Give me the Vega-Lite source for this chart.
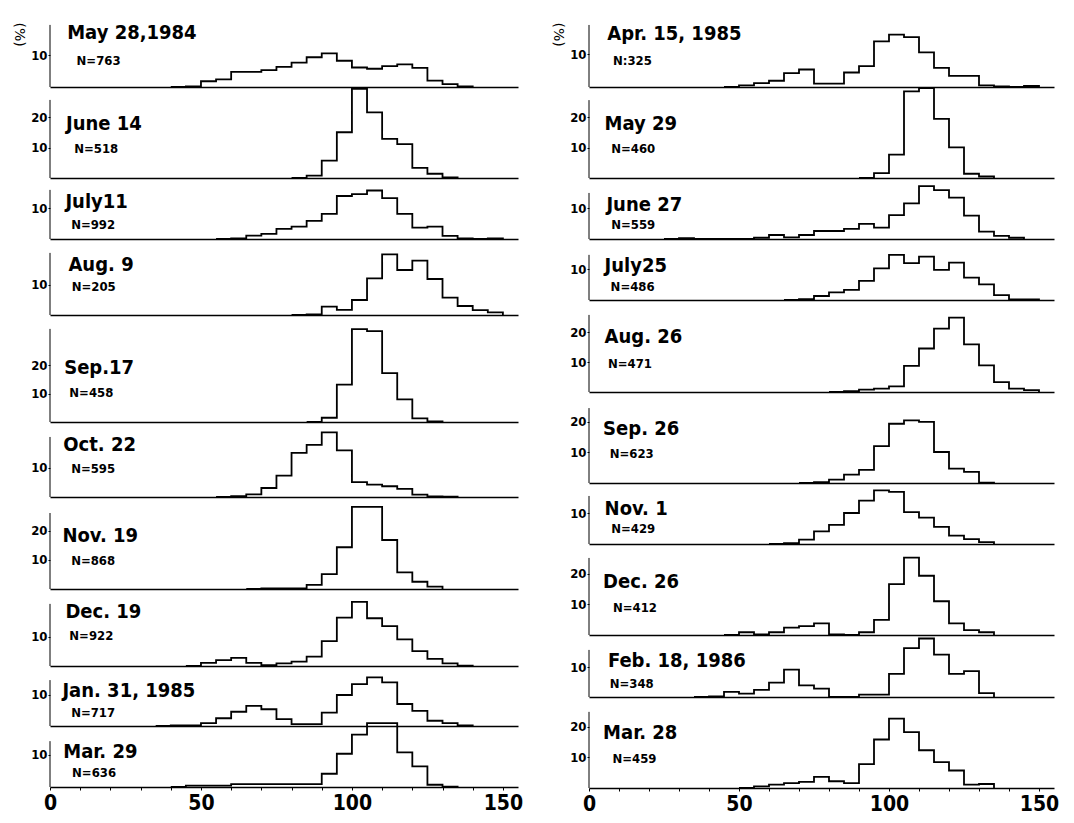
{
"$schema": "https://vega.github.io/schema/vega-lite/v6.json",
"background": "white",
"padding": {"left": 11, "top": 22, "right": 5, "bottom": 5},
"config": {
  "view": {"stroke": null},
  "font": "DejaVu Sans",
  "axis": {"labelOverlap": false},
  "axisX": {"grid": false, "domainColor": "black", "domainWidth": 1.5, "labelColor": "black", "labelOverlap": false, "labelFont": "Liberation Sans Narrow, DejaVu Sans Condensed, sans-serif", "labelFontWeight": "bold"},
  "axisY": {"grid": false, "domain": false, "tickSize": 2, "tickColor": "black", "labelPadding": 1, "labelFontSize": 13, "labelColor": "black", "labelFont": "Liberation Sans Narrow, DejaVu Sans Condensed, sans-serif", "labelFontWeight": "bold"},
  "line": {"color": "black", "strokeWidth": 1.8, "interpolate": "step-after"},
  "rule": {"color": "black", "strokeWidth": 1},
  "text": {"color": "black", "align": "left", "baseline": "alphabetic", "font": "DejaVu Sans Condensed", "fontWeight": "bold"}
},
"datasets": {
  "labels": [
    {"p":"L1","title":"May 28,1984","n":"N=763"},
    {"p":"L2","title":"June 14","n":"N=518"},
    {"p":"L3","title":"July11","n":"N=992"},
    {"p":"L4","title":"Aug. 9","n":"N=205"},
    {"p":"L5","title":"Sep.17","n":"N=458"},
    {"p":"L6","title":"Oct. 22","n":"N=595"},
    {"p":"L7","title":"Nov. 19","n":"N=868"},
    {"p":"L8","title":"Dec. 19","n":"N=922"},
    {"p":"L9","title":"Jan. 31, 1985","n":"N=717"},
    {"p":"L10","title":"Mar. 29","n":"N=636"},
    {"p":"R1","title":"Apr. 15, 1985","n":"N:325"},
    {"p":"R2","title":"May 29","n":"N=460"},
    {"p":"R3","title":"June 27","n":"N=559"},
    {"p":"R4","title":"July25","n":"N=486"},
    {"p":"R5","title":"Aug. 26","n":"N=471"},
    {"p":"R6","title":"Sep. 26","n":"N=623"},
    {"p":"R7","title":"Nov. 1","n":"N=429"},
    {"p":"R8","title":"Dec. 26","n":"N=412"},
    {"p":"R9","title":"Feb. 18, 1986","n":"N=348"},
    {"p":"R10","title":"Mar. 28","n":"N=459"}
  ],
  "hist": [
    {"p":"L1","len":40,"pct":0},{"p":"L1","len":45,"pct":0.2},{"p":"L1","len":50,"pct":1.8},{"p":"L1","len":55,"pct":2.4},{"p":"L1","len":60,"pct":4.7},{"p":"L1","len":65,"pct":4.7},{"p":"L1","len":70,"pct":5.3},{"p":"L1","len":75,"pct":6.3},{"p":"L1","len":80,"pct":7.6},{"p":"L1","len":85,"pct":9.3},{"p":"L1","len":90,"pct":10.5},{"p":"L1","len":95,"pct":8.2},{"p":"L1","len":100,"pct":6.1},{"p":"L1","len":105,"pct":5.7},{"p":"L1","len":110,"pct":6.5},{"p":"L1","len":115,"pct":7.1},{"p":"L1","len":120,"pct":6.0},{"p":"L1","len":125,"pct":2.0},{"p":"L1","len":130,"pct":0.9},{"p":"L1","len":135,"pct":0.2},{"p":"L1","len":140,"pct":0},
    {"p":"L2","len":80,"pct":0},{"p":"L2","len":85,"pct":0.8},{"p":"L2","len":90,"pct":5.7},{"p":"L2","len":95,"pct":15.0},{"p":"L2","len":100,"pct":29.2},{"p":"L2","len":105,"pct":21.5},{"p":"L2","len":110,"pct":12.8},{"p":"L2","len":115,"pct":11.1},{"p":"L2","len":120,"pct":3.3},{"p":"L2","len":125,"pct":1.4},{"p":"L2","len":130,"pct":0.2},{"p":"L2","len":135,"pct":0},
    {"p":"L3","len":55,"pct":0},{"p":"L3","len":60,"pct":0.2},{"p":"L3","len":65,"pct":1.1},{"p":"L3","len":70,"pct":1.7},{"p":"L3","len":75,"pct":3.3},{"p":"L3","len":80,"pct":4.0},{"p":"L3","len":85,"pct":5.9},{"p":"L3","len":90,"pct":8.2},{"p":"L3","len":95,"pct":14.0},{"p":"L3","len":100,"pct":14.6},{"p":"L3","len":105,"pct":15.8},{"p":"L3","len":110,"pct":13.3},{"p":"L3","len":115,"pct":8.2},{"p":"L3","len":120,"pct":3.7},{"p":"L3","len":125,"pct":4.0},{"p":"L3","len":130,"pct":1.0},{"p":"L3","len":135,"pct":0.2},{"p":"L3","len":140,"pct":0},{"p":"L3","len":145,"pct":0.2},{"p":"L3","len":150,"pct":0},
    {"p":"L4","len":80,"pct":0},{"p":"L4","len":85,"pct":0.2},{"p":"L4","len":90,"pct":2.8},{"p":"L4","len":95,"pct":1.7},{"p":"L4","len":100,"pct":5.0},{"p":"L4","len":105,"pct":12.2},{"p":"L4","len":110,"pct":20.2},{"p":"L4","len":115,"pct":15.0},{"p":"L4","len":120,"pct":18.1},{"p":"L4","len":125,"pct":12.0},{"p":"L4","len":130,"pct":5.8},{"p":"L4","len":135,"pct":3.0},{"p":"L4","len":140,"pct":1.6},{"p":"L4","len":145,"pct":0.9},{"p":"L4","len":150,"pct":0},
    {"p":"L5","len":85,"pct":0},{"p":"L5","len":90,"pct":1.5},{"p":"L5","len":95,"pct":13.2},{"p":"L5","len":100,"pct":32.8},{"p":"L5","len":105,"pct":32.1},{"p":"L5","len":110,"pct":17.3},{"p":"L5","len":115,"pct":8.0},{"p":"L5","len":120,"pct":1.3},{"p":"L5","len":125,"pct":0.2},{"p":"L5","len":130,"pct":0},
    {"p":"L6","len":55,"pct":0},{"p":"L6","len":60,"pct":0.3},{"p":"L6","len":65,"pct":0.9},{"p":"L6","len":70,"pct":3.1},{"p":"L6","len":75,"pct":7.4},{"p":"L6","len":80,"pct":15.2},{"p":"L6","len":85,"pct":18.0},{"p":"L6","len":90,"pct":22.3},{"p":"L6","len":95,"pct":16.1},{"p":"L6","len":100,"pct":5.1},{"p":"L6","len":105,"pct":4.3},{"p":"L6","len":110,"pct":3.7},{"p":"L6","len":115,"pct":2.8},{"p":"L6","len":120,"pct":0.8},{"p":"L6","len":125,"pct":0.2},{"p":"L6","len":130,"pct":0.1},{"p":"L6","len":135,"pct":0},
    {"p":"L7","len":65,"pct":0},{"p":"L7","len":70,"pct":0.2},{"p":"L7","len":75,"pct":0.2},{"p":"L7","len":80,"pct":0.2},{"p":"L7","len":85,"pct":1.4},{"p":"L7","len":90,"pct":5.1},{"p":"L7","len":95,"pct":14.4},{"p":"L7","len":100,"pct":28.3},{"p":"L7","len":105,"pct":28.3},{"p":"L7","len":110,"pct":16.9},{"p":"L7","len":115,"pct":5.7},{"p":"L7","len":120,"pct":2.5},{"p":"L7","len":125,"pct":0.8},{"p":"L7","len":130,"pct":0},
    {"p":"L8","len":45,"pct":0},{"p":"L8","len":50,"pct":1.1},{"p":"L8","len":55,"pct":2.0},{"p":"L8","len":60,"pct":2.8},{"p":"L8","len":65,"pct":1.1},{"p":"L8","len":70,"pct":0.3},{"p":"L8","len":75,"pct":0.9},{"p":"L8","len":80,"pct":1.5},{"p":"L8","len":85,"pct":3.2},{"p":"L8","len":90,"pct":8.5},{"p":"L8","len":95,"pct":16.5},{"p":"L8","len":100,"pct":21.9},{"p":"L8","len":105,"pct":16.3},{"p":"L8","len":110,"pct":13.6},{"p":"L8","len":115,"pct":9.1},{"p":"L8","len":120,"pct":5.1},{"p":"L8","len":125,"pct":2.4},{"p":"L8","len":130,"pct":0.9},{"p":"L8","len":135,"pct":0.1},{"p":"L8","len":140,"pct":0},
    {"p":"L9","len":35,"pct":0},{"p":"L9","len":40,"pct":0.2},{"p":"L9","len":45,"pct":0.2},{"p":"L9","len":50,"pct":0.9},{"p":"L9","len":55,"pct":2.5},{"p":"L9","len":60,"pct":4.6},{"p":"L9","len":65,"pct":6.5},{"p":"L9","len":70,"pct":5.4},{"p":"L9","len":75,"pct":2.2},{"p":"L9","len":80,"pct":0.6},{"p":"L9","len":85,"pct":0.6},{"p":"L9","len":90,"pct":4.3},{"p":"L9","len":95,"pct":10.0},{"p":"L9","len":100,"pct":13.5},{"p":"L9","len":105,"pct":15.7},{"p":"L9","len":110,"pct":14.1},{"p":"L9","len":115,"pct":7.1},{"p":"L9","len":120,"pct":4.9},{"p":"L9","len":125,"pct":1.7},{"p":"L9","len":130,"pct":0.9},{"p":"L9","len":135,"pct":0.2},{"p":"L9","len":140,"pct":0},
    {"p":"L10","len":40,"pct":0},{"p":"L10","len":45,"pct":0.4},{"p":"L10","len":50,"pct":0.4},{"p":"L10","len":55,"pct":0.4},{"p":"L10","len":60,"pct":0.9},{"p":"L10","len":65,"pct":0.9},{"p":"L10","len":70,"pct":0.9},{"p":"L10","len":75,"pct":0.9},{"p":"L10","len":80,"pct":0.9},{"p":"L10","len":85,"pct":0.9},{"p":"L10","len":90,"pct":4.1},{"p":"L10","len":95,"pct":10.3},{"p":"L10","len":100,"pct":16.2},{"p":"L10","len":105,"pct":19.8},{"p":"L10","len":110,"pct":19.8},{"p":"L10","len":115,"pct":10.7},{"p":"L10","len":120,"pct":6.4},{"p":"L10","len":125,"pct":0.7},{"p":"L10","len":130,"pct":0.1},{"p":"L10","len":135,"pct":0},
    {"p":"R1","len":45,"pct":0},{"p":"R1","len":50,"pct":0.5},{"p":"R1","len":55,"pct":1.2},{"p":"R1","len":60,"pct":1.9},{"p":"R1","len":65,"pct":4.2},{"p":"R1","len":70,"pct":5.3},{"p":"R1","len":75,"pct":1.0},{"p":"R1","len":80,"pct":1.0},{"p":"R1","len":85,"pct":4.4},{"p":"R1","len":90,"pct":6.3},{"p":"R1","len":95,"pct":13.8},{"p":"R1","len":100,"pct":15.9},{"p":"R1","len":105,"pct":15.1},{"p":"R1","len":110,"pct":10.5},{"p":"R1","len":115,"pct":5.8},{"p":"R1","len":120,"pct":3.4},{"p":"R1","len":125,"pct":3.4},{"p":"R1","len":130,"pct":0.5},{"p":"R1","len":135,"pct":0.2},{"p":"R1","len":140,"pct":0},{"p":"R1","len":145,"pct":0.3},{"p":"R1","len":150,"pct":0},
    {"p":"R2","len":90,"pct":0},{"p":"R2","len":95,"pct":1.6},{"p":"R2","len":100,"pct":7.7},{"p":"R2","len":105,"pct":28.6},{"p":"R2","len":110,"pct":29.7},{"p":"R2","len":115,"pct":19.5},{"p":"R2","len":120,"pct":10.1},{"p":"R2","len":125,"pct":1.4},{"p":"R2","len":130,"pct":0.5},{"p":"R2","len":135,"pct":0},
    {"p":"R3","len":25,"pct":0},{"p":"R3","len":30,"pct":0.3},{"p":"R3","len":35,"pct":0},{"p":"R3","len":40,"pct":0},{"p":"R3","len":45,"pct":0},{"p":"R3","len":50,"pct":0},{"p":"R3","len":55,"pct":0.4},{"p":"R3","len":60,"pct":1.3},{"p":"R3","len":65,"pct":0.5},{"p":"R3","len":70,"pct":1.3},{"p":"R3","len":75,"pct":2.6},{"p":"R3","len":80,"pct":2.6},{"p":"R3","len":85,"pct":3.3},{"p":"R3","len":90,"pct":4.9},{"p":"R3","len":95,"pct":3.7},{"p":"R3","len":100,"pct":7.8},{"p":"R3","len":105,"pct":11.6},{"p":"R3","len":110,"pct":17.2},{"p":"R3","len":115,"pct":15.9},{"p":"R3","len":120,"pct":13.5},{"p":"R3","len":125,"pct":7.6},{"p":"R3","len":130,"pct":2.4},{"p":"R3","len":135,"pct":1.0},{"p":"R3","len":140,"pct":0.4},{"p":"R3","len":145,"pct":0},
    {"p":"R4","len":65,"pct":0},{"p":"R4","len":70,"pct":0.3},{"p":"R4","len":75,"pct":1.3},{"p":"R4","len":80,"pct":2.5},{"p":"R4","len":85,"pct":3.3},{"p":"R4","len":90,"pct":6.2},{"p":"R4","len":95,"pct":10.3},{"p":"R4","len":100,"pct":14.7},{"p":"R4","len":105,"pct":12.0},{"p":"R4","len":110,"pct":14.1},{"p":"R4","len":115,"pct":9.8},{"p":"R4","len":120,"pct":12.2},{"p":"R4","len":125,"pct":7.3},{"p":"R4","len":130,"pct":5.1},{"p":"R4","len":135,"pct":1.6},{"p":"R4","len":140,"pct":0.2},{"p":"R4","len":145,"pct":0.2},{"p":"R4","len":150,"pct":0},
    {"p":"R5","len":80,"pct":0},{"p":"R5","len":85,"pct":0.3},{"p":"R5","len":90,"pct":0.8},{"p":"R5","len":95,"pct":1.1},{"p":"R5","len":100,"pct":1.9},{"p":"R5","len":105,"pct":8.7},{"p":"R5","len":110,"pct":14.5},{"p":"R5","len":115,"pct":21.1},{"p":"R5","len":120,"pct":24.8},{"p":"R5","len":125,"pct":15.9},{"p":"R5","len":130,"pct":8.9},{"p":"R5","len":135,"pct":3.3},{"p":"R5","len":140,"pct":1.1},{"p":"R5","len":145,"pct":0.6},{"p":"R5","len":150,"pct":0},
    {"p":"R6","len":70,"pct":0},{"p":"R6","len":75,"pct":0.3},{"p":"R6","len":80,"pct":1.1},{"p":"R6","len":85,"pct":2.7},{"p":"R6","len":90,"pct":4.3},{"p":"R6","len":95,"pct":12.0},{"p":"R6","len":100,"pct":19.3},{"p":"R6","len":105,"pct":20.4},{"p":"R6","len":110,"pct":19.9},{"p":"R6","len":115,"pct":10.1},{"p":"R6","len":120,"pct":4.7},{"p":"R6","len":125,"pct":3.6},{"p":"R6","len":130,"pct":0.1},{"p":"R6","len":135,"pct":0},
    {"p":"R7","len":60,"pct":0},{"p":"R7","len":65,"pct":0.3},{"p":"R7","len":70,"pct":1.4},{"p":"R7","len":75,"pct":4.1},{"p":"R7","len":80,"pct":6.2},{"p":"R7","len":85,"pct":10.0},{"p":"R7","len":90,"pct":14.0},{"p":"R7","len":95,"pct":17.3},{"p":"R7","len":100,"pct":16.8},{"p":"R7","len":105,"pct":10.3},{"p":"R7","len":110,"pct":8.5},{"p":"R7","len":115,"pct":5.5},{"p":"R7","len":120,"pct":2.7},{"p":"R7","len":125,"pct":1.6},{"p":"R7","len":130,"pct":0.6},{"p":"R7","len":135,"pct":0},
    {"p":"R8","len":45,"pct":0},{"p":"R8","len":50,"pct":0.9},{"p":"R8","len":55,"pct":0.2},{"p":"R8","len":60,"pct":0.9},{"p":"R8","len":65,"pct":2.4},{"p":"R8","len":70,"pct":2.9},{"p":"R8","len":75,"pct":3.8},{"p":"R8","len":80,"pct":0.2},{"p":"R8","len":85,"pct":0},{"p":"R8","len":90,"pct":0.9},{"p":"R8","len":95,"pct":4.9},{"p":"R8","len":100,"pct":16.6},{"p":"R8","len":105,"pct":25.2},{"p":"R8","len":110,"pct":19.3},{"p":"R8","len":115,"pct":11.0},{"p":"R8","len":120,"pct":3.8},{"p":"R8","len":125,"pct":1.6},{"p":"R8","len":130,"pct":0.9},{"p":"R8","len":135,"pct":0},
    {"p":"R9","len":35,"pct":0},{"p":"R9","len":40,"pct":0.2},{"p":"R9","len":45,"pct":1.7},{"p":"R9","len":50,"pct":1.1},{"p":"R9","len":55,"pct":2.4},{"p":"R9","len":60,"pct":4.8},{"p":"R9","len":65,"pct":9.1},{"p":"R9","len":70,"pct":3.9},{"p":"R9","len":75,"pct":2.8},{"p":"R9","len":80,"pct":0},{"p":"R9","len":85,"pct":0},{"p":"R9","len":90,"pct":0.8},{"p":"R9","len":95,"pct":0.8},{"p":"R9","len":100,"pct":7.7},{"p":"R9","len":105,"pct":16.3},{"p":"R9","len":110,"pct":19.5},{"p":"R9","len":115,"pct":14.1},{"p":"R9","len":120,"pct":7.7},{"p":"R9","len":125,"pct":8.6},{"p":"R9","len":130,"pct":1.3},{"p":"R9","len":135,"pct":0},
    {"p":"R10","len":50,"pct":0},{"p":"R10","len":55,"pct":0.5},{"p":"R10","len":60,"pct":1.1},{"p":"R10","len":65,"pct":1.6},{"p":"R10","len":70,"pct":2.0},{"p":"R10","len":75,"pct":3.6},{"p":"R10","len":80,"pct":2.2},{"p":"R10","len":85,"pct":1.6},{"p":"R10","len":90,"pct":7.8},{"p":"R10","len":95,"pct":15.8},{"p":"R10","len":100,"pct":22.6},{"p":"R10","len":105,"pct":18.2},{"p":"R10","len":110,"pct":12.3},{"p":"R10","len":115,"pct":8.4},{"p":"R10","len":120,"pct":5.7},{"p":"R10","len":125,"pct":1.1},{"p":"R10","len":130,"pct":1.3},{"p":"R10","len":135,"pct":0}
  ]
},
"spacing": 27,
"hconcat": [
{"vconcat": [
 {"width": 468, "height": 62, "layer": [
  {"data": {"name": "hist"}, "transform": [{"filter": "datum.p === 'L1'"}], "mark": "line",
   "encoding": {"x": {"field": "len", "type": "quantitative", "scale": {"domain": [0, 155], "nice": false, "zero": false}, "axis": {"labels": false, "ticks": false, "title": null}},
                "y": {"field": "pct", "type": "quantitative", "scale": {"domain": [0, 19.375], "nice": false}, "axis": {"values": [10], "title": "(%)", "titleAngle": 90, "titleX": -32, "titleY": -3, "titleAlign": "left", "titleBaseline": "middle", "titleFontSize": 14, "titleFontWeight": "normal", "titleColor": "black", "titleFont": "DejaVu Sans"}}}},
  {"data": {"name": "labels"}, "transform": [{"filter": "datum.p === 'L1'"}], "mark": "rule",
   "encoding": {"x": {"datum": 0}, "y": {"datum": 0}, "y2": {"datum": 19.4}}},
  {"data": {"name": "labels"}, "transform": [{"filter": "datum.p === 'L1'"}], "mark": {"type": "text", "fontSize": 20},
   "encoding": {"x": {"datum": 5.7}, "y": {"datum": 15.0}, "text": {"field": "title"}}},
  {"data": {"name": "labels"}, "transform": [{"filter": "datum.p === 'L1'"}], "mark": {"type": "text", "fontSize": 13},
   "encoding": {"x": {"datum": 8.8}, "y": {"datum": 6.9}, "text": {"field": "n"}}}
 ]},
 {"width": 468, "height": 91, "layer": [
  {"data": {"name": "hist"}, "transform": [{"filter": "datum.p === 'L2'"}], "mark": "line",
   "encoding": {"x": {"field": "len", "type": "quantitative", "scale": {"domain": [0, 155], "nice": false, "zero": false}, "axis": {"labels": false, "ticks": false, "title": null}},
                "y": {"field": "pct", "type": "quantitative", "scale": {"domain": [0, 29.84], "nice": false}, "axis": {"values": [10, 20], "title": null}}}},
  {"data": {"name": "labels"}, "transform": [{"filter": "datum.p === 'L2'"}], "mark": "rule",
   "encoding": {"x": {"datum": 0}, "y": {"datum": 0}, "y2": {"datum": 25.6}}},
  {"data": {"name": "labels"}, "transform": [{"filter": "datum.p === 'L2'"}], "mark": {"type": "text", "fontSize": 20},
   "encoding": {"x": {"datum": 5.3}, "y": {"datum": 15.7}, "text": {"field": "title"}}},
  {"data": {"name": "labels"}, "transform": [{"filter": "datum.p === 'L2'"}], "mark": {"type": "text", "fontSize": 13},
   "encoding": {"x": {"datum": 8.0}, "y": {"datum": 8.2}, "text": {"field": "n"}}}
 ]},
 {"width": 468, "height": 61, "layer": [
  {"data": {"name": "hist"}, "transform": [{"filter": "datum.p === 'L3'"}], "mark": "line",
   "encoding": {"x": {"field": "len", "type": "quantitative", "scale": {"domain": [0, 155], "nice": false, "zero": false}, "axis": {"labels": false, "ticks": false, "title": null}},
                "y": {"field": "pct", "type": "quantitative", "scale": {"domain": [0, 19.87], "nice": false}, "axis": {"values": [10], "title": null}}}},
  {"data": {"name": "labels"}, "transform": [{"filter": "datum.p === 'L3'"}], "mark": "rule",
   "encoding": {"x": {"datum": 0}, "y": {"datum": 0}, "y2": {"datum": 16}}},
  {"data": {"name": "labels"}, "transform": [{"filter": "datum.p === 'L3'"}], "mark": {"type": "text", "fontSize": 20},
   "encoding": {"x": {"datum": 5.1}, "y": {"datum": 10.1}, "text": {"field": "title"}}},
  {"data": {"name": "labels"}, "transform": [{"filter": "datum.p === 'L3'"}], "mark": {"type": "text", "fontSize": 13},
   "encoding": {"x": {"datum": 7.0}, "y": {"datum": 3.3}, "text": {"field": "n"}}}
 ]},
 {"width": 468, "height": 76, "layer": [
  {"data": {"name": "hist"}, "transform": [{"filter": "datum.p === 'L4'"}], "mark": "line",
   "encoding": {"x": {"field": "len", "type": "quantitative", "scale": {"domain": [0, 155], "nice": false, "zero": false}, "axis": {"labels": false, "ticks": false, "title": null}},
                "y": {"field": "pct", "type": "quantitative", "scale": {"domain": [0, 25.33], "nice": false}, "axis": {"values": [10], "title": null}}}},
  {"data": {"name": "labels"}, "transform": [{"filter": "datum.p === 'L4'"}], "mark": "rule",
   "encoding": {"x": {"datum": 0}, "y": {"datum": 0}, "y2": {"datum": 20.7}}},
  {"data": {"name": "labels"}, "transform": [{"filter": "datum.p === 'L4'"}], "mark": {"type": "text", "fontSize": 20},
   "encoding": {"x": {"datum": 6.1}, "y": {"datum": 14.7}, "text": {"field": "title"}}},
  {"data": {"name": "labels"}, "transform": [{"filter": "datum.p === 'L4'"}], "mark": {"type": "text", "fontSize": 13},
   "encoding": {"x": {"datum": 7.2}, "y": {"datum": 8.0}, "text": {"field": "n"}}}
 ]},
 {"width": 468, "height": 107, "layer": [
  {"data": {"name": "hist"}, "transform": [{"filter": "datum.p === 'L5'"}], "mark": "line",
   "encoding": {"x": {"field": "len", "type": "quantitative", "scale": {"domain": [0, 155], "nice": false, "zero": false}, "axis": {"labels": false, "ticks": false, "title": null}},
                "y": {"field": "pct", "type": "quantitative", "scale": {"domain": [0, 37.81], "nice": false}, "axis": {"values": [10, 20], "title": null}}}},
  {"data": {"name": "labels"}, "transform": [{"filter": "datum.p === 'L5'"}], "mark": "rule",
   "encoding": {"x": {"datum": 0}, "y": {"datum": 0}, "y2": {"datum": 32.9}}},
  {"data": {"name": "labels"}, "transform": [{"filter": "datum.p === 'L5'"}], "mark": {"type": "text", "fontSize": 20},
   "encoding": {"x": {"datum": 4.7}, "y": {"datum": 17.0}, "text": {"field": "title"}}},
  {"data": {"name": "labels"}, "transform": [{"filter": "datum.p === 'L5'"}], "mark": {"type": "text", "fontSize": 13},
   "encoding": {"x": {"datum": 6.4}, "y": {"datum": 8.8}, "text": {"field": "n"}}}
 ]},
 {"width": 468, "height": 75, "layer": [
  {"data": {"name": "hist"}, "transform": [{"filter": "datum.p === 'L6'"}], "mark": "line",
   "encoding": {"x": {"field": "len", "type": "quantitative", "scale": {"domain": [0, 155], "nice": false, "zero": false}, "axis": {"labels": false, "ticks": false, "title": null}},
                "y": {"field": "pct", "type": "quantitative", "scale": {"domain": [0, 25.86], "nice": false}, "axis": {"values": [10], "title": null}}}},
  {"data": {"name": "labels"}, "transform": [{"filter": "datum.p === 'L6'"}], "mark": "rule",
   "encoding": {"x": {"datum": 0}, "y": {"datum": 0}, "y2": {"datum": 20.7}}},
  {"data": {"name": "labels"}, "transform": [{"filter": "datum.p === 'L6'"}], "mark": {"type": "text", "fontSize": 20},
   "encoding": {"x": {"datum": 4.4}, "y": {"datum": 15.9}, "text": {"field": "title"}}},
  {"data": {"name": "labels"}, "transform": [{"filter": "datum.p === 'L6'"}], "mark": {"type": "text", "fontSize": 13},
   "encoding": {"x": {"datum": 7.0}, "y": {"datum": 8.3}, "text": {"field": "n"}}}
 ]},
 {"width": 468, "height": 92, "layer": [
  {"data": {"name": "hist"}, "transform": [{"filter": "datum.p === 'L7'"}], "mark": "line",
   "encoding": {"x": {"field": "len", "type": "quantitative", "scale": {"domain": [0, 155], "nice": false, "zero": false}, "axis": {"labels": false, "ticks": false, "title": null}},
                "y": {"field": "pct", "type": "quantitative", "scale": {"domain": [0, 31.72], "nice": false}, "axis": {"values": [10, 20], "title": null}}}},
  {"data": {"name": "labels"}, "transform": [{"filter": "datum.p === 'L7'"}], "mark": "rule",
   "encoding": {"x": {"datum": 0}, "y": {"datum": 0}, "y2": {"datum": 26.2}}},
  {"data": {"name": "labels"}, "transform": [{"filter": "datum.p === 'L7'"}], "mark": {"type": "text", "fontSize": 20},
   "encoding": {"x": {"datum": 4.1}, "y": {"datum": 16.2}, "text": {"field": "title"}}},
  {"data": {"name": "labels"}, "transform": [{"filter": "datum.p === 'L7'"}], "mark": {"type": "text", "fontSize": 13},
   "encoding": {"x": {"datum": 7.0}, "y": {"datum": 8.3}, "text": {"field": "n"}}}
 ]},
 {"width": 468, "height": 77, "layer": [
  {"data": {"name": "hist"}, "transform": [{"filter": "datum.p === 'L8'"}], "mark": "line",
   "encoding": {"x": {"field": "len", "type": "quantitative", "scale": {"domain": [0, 155], "nice": false, "zero": false}, "axis": {"labels": false, "ticks": false, "title": null}},
                "y": {"field": "pct", "type": "quantitative", "scale": {"domain": [0, 26.28], "nice": false}, "axis": {"values": [10], "title": null}}}},
  {"data": {"name": "labels"}, "transform": [{"filter": "datum.p === 'L8'"}], "mark": "rule",
   "encoding": {"x": {"datum": 0}, "y": {"datum": 0}, "y2": {"datum": 21.2}}},
  {"data": {"name": "labels"}, "transform": [{"filter": "datum.p === 'L8'"}], "mark": {"type": "text", "fontSize": 20},
   "encoding": {"x": {"datum": 5.1}, "y": {"datum": 16.4}, "text": {"field": "title"}}},
  {"data": {"name": "labels"}, "transform": [{"filter": "datum.p === 'L8'"}], "mark": {"type": "text", "fontSize": 13},
   "encoding": {"x": {"datum": 6.4}, "y": {"datum": 8.9}, "text": {"field": "n"}}}
 ]},
 {"width": 468, "height": 60, "layer": [
  {"data": {"name": "hist"}, "transform": [{"filter": "datum.p === 'L9'"}], "mark": "line",
   "encoding": {"x": {"field": "len", "type": "quantitative", "scale": {"domain": [0, 155], "nice": false, "zero": false}, "axis": {"labels": false, "ticks": false, "title": null}},
                "y": {"field": "pct", "type": "quantitative", "scale": {"domain": [0, 19.35], "nice": false}, "axis": {"values": [10], "title": null}}}},
  {"data": {"name": "labels"}, "transform": [{"filter": "datum.p === 'L9'"}], "mark": "rule",
   "encoding": {"x": {"datum": 0}, "y": {"datum": 0}, "y2": {"datum": 14.8}}},
  {"data": {"name": "labels"}, "transform": [{"filter": "datum.p === 'L9'"}], "mark": {"type": "text", "fontSize": 20},
   "encoding": {"x": {"datum": 4.1}, "y": {"datum": 9.4}, "text": {"field": "title"}}},
  {"data": {"name": "labels"}, "transform": [{"filter": "datum.p === 'L9'"}], "mark": {"type": "text", "fontSize": 13},
   "encoding": {"x": {"datum": 7.0}, "y": {"datum": 2.9}, "text": {"field": "n"}}}
 ]},
 {"width": 468, "height": 61, "resolve": {"axis": {"x": "independent"}}, "layer": [
  {"data": {"name": "hist"}, "transform": [{"filter": "datum.p === 'L10'"}], "mark": "line",
   "encoding": {"x": {"field": "len", "type": "quantitative", "scale": {"domain": [0, 155], "nice": false, "zero": false}, "axis": {"orient": "bottom", "values": [0,10,20,30,40,50,60,70,80,90,100,110,120,130,140,150], "labels": false, "tickSize": 3, "tickColor": "black", "title": null}},
                "y": {"field": "pct", "type": "quantitative", "scale": {"domain": [0, 18.89], "nice": false}, "axis": {"values": [10], "title": null}}}},
  {"data": {"name": "labels"}, "transform": [{"filter": "datum.p === 'L10'"}], "mark": "rule",
   "encoding": {"x": {"datum": 0, "axis": {"orient": "bottom", "values": [0, 50, 100, 150], "ticks": false, "domain": false, "labelFontSize": 21, "labelPadding": 5, "labelFlush": false, "labelOverlap": false, "labelBound": false, "title": null}}, "y": {"datum": 0}, "y2": {"datum": 14.2}}},
  {"data": {"name": "labels"}, "transform": [{"filter": "datum.p === 'L10'"}], "mark": {"type": "text", "fontSize": 20},
   "encoding": {"x": {"datum": 4.4, "axis": null}, "y": {"datum": 9.0}, "text": {"field": "title"}}},
  {"data": {"name": "labels"}, "transform": [{"filter": "datum.p === 'L10'"}], "mark": {"type": "text", "fontSize": 13},
   "encoding": {"x": {"datum": 7.3, "axis": null}, "y": {"datum": 3.1}, "text": {"field": "n"}}}
 ]}
], "spacing": 0, "bounds": "flush"},
{"vconcat": [
 {"width": 465, "height": 62, "layer": [
  {"data": {"name": "hist"}, "transform": [{"filter": "datum.p === 'R1'"}], "mark": "line",
   "encoding": {"x": {"field": "len", "type": "quantitative", "scale": {"domain": [0, 155], "nice": false, "zero": false}, "axis": {"labels": false, "ticks": false, "title": null}},
                "y": {"field": "pct", "type": "quantitative", "scale": {"domain": [0, 18.79], "nice": false}, "axis": {"values": [10], "title": "(%)", "titleAngle": 90, "titleX": -32, "titleY": -3, "titleAlign": "left", "titleBaseline": "middle", "titleFontSize": 14, "titleFontWeight": "normal", "titleColor": "black", "titleFont": "DejaVu Sans"}}}},
  {"data": {"name": "labels"}, "transform": [{"filter": "datum.p === 'R1'"}], "mark": "rule",
   "encoding": {"x": {"datum": 0}, "y": {"datum": 0}, "y2": {"datum": 18.8}}},
  {"data": {"name": "labels"}, "transform": [{"filter": "datum.p === 'R1'"}], "mark": {"type": "text", "fontSize": 20},
   "encoding": {"x": {"datum": 6.1}, "y": {"datum": 14.2}, "text": {"field": "title"}}},
  {"data": {"name": "labels"}, "transform": [{"filter": "datum.p === 'R1'"}], "mark": {"type": "text", "fontSize": 13},
   "encoding": {"x": {"datum": 8.0}, "y": {"datum": 6.7}, "text": {"field": "n"}}}
 ]},
 {"width": 465, "height": 91, "layer": [
  {"data": {"name": "hist"}, "transform": [{"filter": "datum.p === 'R2'"}], "mark": "line",
   "encoding": {"x": {"field": "len", "type": "quantitative", "scale": {"domain": [0, 155], "nice": false, "zero": false}, "axis": {"labels": false, "ticks": false, "title": null}},
                "y": {"field": "pct", "type": "quantitative", "scale": {"domain": [0, 30.03], "nice": false}, "axis": {"values": [10, 20], "title": null}}}},
  {"data": {"name": "labels"}, "transform": [{"filter": "datum.p === 'R2'"}], "mark": "rule",
   "encoding": {"x": {"datum": 0}, "y": {"datum": 0}, "y2": {"datum": 25.7}}},
  {"data": {"name": "labels"}, "transform": [{"filter": "datum.p === 'R2'"}], "mark": {"type": "text", "fontSize": 20},
   "encoding": {"x": {"datum": 5.2}, "y": {"datum": 15.8}, "text": {"field": "title"}}},
  {"data": {"name": "labels"}, "transform": [{"filter": "datum.p === 'R2'"}], "mark": {"type": "text", "fontSize": 13},
   "encoding": {"x": {"datum": 7.4}, "y": {"datum": 8.1}, "text": {"field": "n"}}}
 ]},
 {"width": 465, "height": 61, "layer": [
  {"data": {"name": "hist"}, "transform": [{"filter": "datum.p === 'R3'"}], "mark": "line",
   "encoding": {"x": {"field": "len", "type": "quantitative", "scale": {"domain": [0, 155], "nice": false, "zero": false}, "axis": {"labels": false, "ticks": false, "title": null}},
                "y": {"field": "pct", "type": "quantitative", "scale": {"domain": [0, 19.87], "nice": false}, "axis": {"values": [10], "title": null}}}},
  {"data": {"name": "labels"}, "transform": [{"filter": "datum.p === 'R3'"}], "mark": "rule",
   "encoding": {"x": {"datum": 0}, "y": {"datum": 0}, "y2": {"datum": 15}}},
  {"data": {"name": "labels"}, "transform": [{"filter": "datum.p === 'R3'"}], "mark": {"type": "text", "fontSize": 20},
   "encoding": {"x": {"datum": 5.8}, "y": {"datum": 9.2}, "text": {"field": "title"}}},
  {"data": {"name": "labels"}, "transform": [{"filter": "datum.p === 'R3'"}], "mark": {"type": "text", "fontSize": 13},
   "encoding": {"x": {"datum": 7.4}, "y": {"datum": 3.3}, "text": {"field": "n"}}}
 ]},
 {"width": 465, "height": 61, "layer": [
  {"data": {"name": "hist"}, "transform": [{"filter": "datum.p === 'R4'"}], "mark": "line",
   "encoding": {"x": {"field": "len", "type": "quantitative", "scale": {"domain": [0, 155], "nice": false, "zero": false}, "axis": {"labels": false, "ticks": false, "title": null}},
                "y": {"field": "pct", "type": "quantitative", "scale": {"domain": [0, 19.87], "nice": false}, "axis": {"values": [10], "title": null}}}},
  {"data": {"name": "labels"}, "transform": [{"filter": "datum.p === 'R4'"}], "mark": "rule",
   "encoding": {"x": {"datum": 0}, "y": {"datum": 0}, "y2": {"datum": 14.7}}},
  {"data": {"name": "labels"}, "transform": [{"filter": "datum.p === 'R4'"}], "mark": {"type": "text", "fontSize": 20},
   "encoding": {"x": {"datum": 5.2}, "y": {"datum": 9.2}, "text": {"field": "title"}}},
  {"data": {"name": "labels"}, "transform": [{"filter": "datum.p === 'R4'"}], "mark": {"type": "text", "fontSize": 13},
   "encoding": {"x": {"datum": 7.2}, "y": {"datum": 3.0}, "text": {"field": "n"}}}
 ]},
 {"width": 465, "height": 92, "layer": [
  {"data": {"name": "hist"}, "transform": [{"filter": "datum.p === 'R5'"}], "mark": "line",
   "encoding": {"x": {"field": "len", "type": "quantitative", "scale": {"domain": [0, 155], "nice": false, "zero": false}, "axis": {"labels": false, "ticks": false, "title": null}},
                "y": {"field": "pct", "type": "quantitative", "scale": {"domain": [0, 30.67], "nice": false}, "axis": {"values": [10, 20], "title": null}}}},
  {"data": {"name": "labels"}, "transform": [{"filter": "datum.p === 'R5'"}], "mark": "rule",
   "encoding": {"x": {"datum": 0}, "y": {"datum": 0}, "y2": {"datum": 25.7}}},
  {"data": {"name": "labels"}, "transform": [{"filter": "datum.p === 'R5'"}], "mark": {"type": "text", "fontSize": 20},
   "encoding": {"x": {"datum": 5.2}, "y": {"datum": 16.2}, "text": {"field": "title"}}},
  {"data": {"name": "labels"}, "transform": [{"filter": "datum.p === 'R5'"}], "mark": {"type": "text", "fontSize": 13},
   "encoding": {"x": {"datum": 6.3}, "y": {"datum": 7.9}, "text": {"field": "n"}}}
 ]},
 {"width": 465, "height": 91, "layer": [
  {"data": {"name": "hist"}, "transform": [{"filter": "datum.p === 'R6'"}], "mark": "line",
   "encoding": {"x": {"field": "len", "type": "quantitative", "scale": {"domain": [0, 155], "nice": false, "zero": false}, "axis": {"labels": false, "ticks": false, "title": null}},
                "y": {"field": "pct", "type": "quantitative", "scale": {"domain": [0, 29.64], "nice": false}, "axis": {"values": [10, 20], "title": null}}}},
  {"data": {"name": "labels"}, "transform": [{"filter": "datum.p === 'R6'"}], "mark": "rule",
   "encoding": {"x": {"datum": 0}, "y": {"datum": 0}, "y2": {"datum": 24.4}}},
  {"data": {"name": "labels"}, "transform": [{"filter": "datum.p === 'R6'"}], "mark": {"type": "text", "fontSize": 20},
   "encoding": {"x": {"datum": 4.7}, "y": {"datum": 15.6}, "text": {"field": "title"}}},
  {"data": {"name": "labels"}, "transform": [{"filter": "datum.p === 'R6'"}], "mark": {"type": "text", "fontSize": 13},
   "encoding": {"x": {"datum": 6.9}, "y": {"datum": 8.0}, "text": {"field": "n"}}}
 ]},
 {"width": 465, "height": 61, "layer": [
  {"data": {"name": "hist"}, "transform": [{"filter": "datum.p === 'R7'"}], "mark": "line",
   "encoding": {"x": {"field": "len", "type": "quantitative", "scale": {"domain": [0, 155], "nice": false, "zero": false}, "axis": {"labels": false, "ticks": false, "title": null}},
                "y": {"field": "pct", "type": "quantitative", "scale": {"domain": [0, 19.68], "nice": false}, "axis": {"values": [10], "title": null}}}},
  {"data": {"name": "labels"}, "transform": [{"filter": "datum.p === 'R7'"}], "mark": "rule",
   "encoding": {"x": {"datum": 0}, "y": {"datum": 0}, "y2": {"datum": 15.5}}},
  {"data": {"name": "labels"}, "transform": [{"filter": "datum.p === 'R7'"}], "mark": {"type": "text", "fontSize": 20},
   "encoding": {"x": {"datum": 5.2}, "y": {"datum": 9.4}, "text": {"field": "title"}}},
  {"data": {"name": "labels"}, "transform": [{"filter": "datum.p === 'R7'"}], "mark": {"type": "text", "fontSize": 13},
   "encoding": {"x": {"datum": 7.4}, "y": {"datum": 3.5}, "text": {"field": "n"}}}
 ]},
 {"width": 465, "height": 91, "layer": [
  {"data": {"name": "hist"}, "transform": [{"filter": "datum.p === 'R8'"}], "mark": "line",
   "encoding": {"x": {"field": "len", "type": "quantitative", "scale": {"domain": [0, 155], "nice": false, "zero": false}, "axis": {"labels": false, "ticks": false, "title": null}},
                "y": {"field": "pct", "type": "quantitative", "scale": {"domain": [0, 29.64], "nice": false}, "axis": {"values": [10, 20], "title": null}}}},
  {"data": {"name": "labels"}, "transform": [{"filter": "datum.p === 'R8'"}], "mark": "rule",
   "encoding": {"x": {"datum": 0}, "y": {"datum": 0}, "y2": {"datum": 25.1}}},
  {"data": {"name": "labels"}, "transform": [{"filter": "datum.p === 'R8'"}], "mark": {"type": "text", "fontSize": 20},
   "encoding": {"x": {"datum": 4.7}, "y": {"datum": 15.4}, "text": {"field": "title"}}},
  {"data": {"name": "labels"}, "transform": [{"filter": "datum.p === 'R8'"}], "mark": {"type": "text", "fontSize": 13},
   "encoding": {"x": {"datum": 8.0}, "y": {"datum": 7.4}, "text": {"field": "n"}}}
 ]},
 {"width": 465, "height": 62, "layer": [
  {"data": {"name": "hist"}, "transform": [{"filter": "datum.p === 'R9'"}], "mark": "line",
   "encoding": {"x": {"field": "len", "type": "quantitative", "scale": {"domain": [0, 155], "nice": false, "zero": false}, "axis": {"labels": false, "ticks": false, "title": null}},
                "y": {"field": "pct", "type": "quantitative", "scale": {"domain": [0, 20.67], "nice": false}, "axis": {"values": [10], "title": null}}}},
  {"data": {"name": "labels"}, "transform": [{"filter": "datum.p === 'R9'"}], "mark": "rule",
   "encoding": {"x": {"datum": 0}, "y": {"datum": 0}, "y2": {"datum": 15.7}}},
  {"data": {"name": "labels"}, "transform": [{"filter": "datum.p === 'R9'"}], "mark": {"type": "text", "fontSize": 20},
   "encoding": {"x": {"datum": 6.3}, "y": {"datum": 10.1}, "text": {"field": "title"}}},
  {"data": {"name": "labels"}, "transform": [{"filter": "datum.p === 'R9'"}], "mark": {"type": "text", "fontSize": 13},
   "encoding": {"x": {"datum": 6.9}, "y": {"datum": 2.9}, "text": {"field": "n"}}}
 ]},
 {"width": 465, "height": 91, "resolve": {"axis": {"x": "independent"}}, "layer": [
  {"data": {"name": "hist"}, "transform": [{"filter": "datum.p === 'R10'"}], "mark": "line",
   "encoding": {"x": {"field": "len", "type": "quantitative", "scale": {"domain": [0, 155], "nice": false, "zero": false}, "axis": {"orient": "bottom", "values": [0,10,20,30,40,50,60,70,80,90,100,110,120,130,140,150], "labels": false, "tickSize": 3, "tickColor": "black", "title": null}},
                "y": {"field": "pct", "type": "quantitative", "scale": {"domain": [0, 29.64], "nice": false}, "axis": {"values": [10, 20], "title": null}}}},
  {"data": {"name": "labels"}, "transform": [{"filter": "datum.p === 'R10'"}], "mark": "rule",
   "encoding": {"x": {"datum": 0, "axis": {"orient": "bottom", "values": [0, 50, 100, 150], "ticks": false, "domain": false, "labelFontSize": 21, "labelPadding": 5, "labelFlush": false, "labelOverlap": false, "labelBound": false, "title": null}}, "y": {"datum": 0}, "y2": {"datum": 24.8}}},
  {"data": {"name": "labels"}, "transform": [{"filter": "datum.p === 'R10'"}], "mark": {"type": "text", "fontSize": 20},
   "encoding": {"x": {"datum": 4.7, "axis": null}, "y": {"datum": 15.9}, "text": {"field": "title"}}},
  {"data": {"name": "labels"}, "transform": [{"filter": "datum.p === 'R10'"}], "mark": {"type": "text", "fontSize": 13},
   "encoding": {"x": {"datum": 7.8, "axis": null}, "y": {"datum": 8.0}, "text": {"field": "n"}}}
 ]}
], "spacing": 0, "bounds": "flush"}
]
}
